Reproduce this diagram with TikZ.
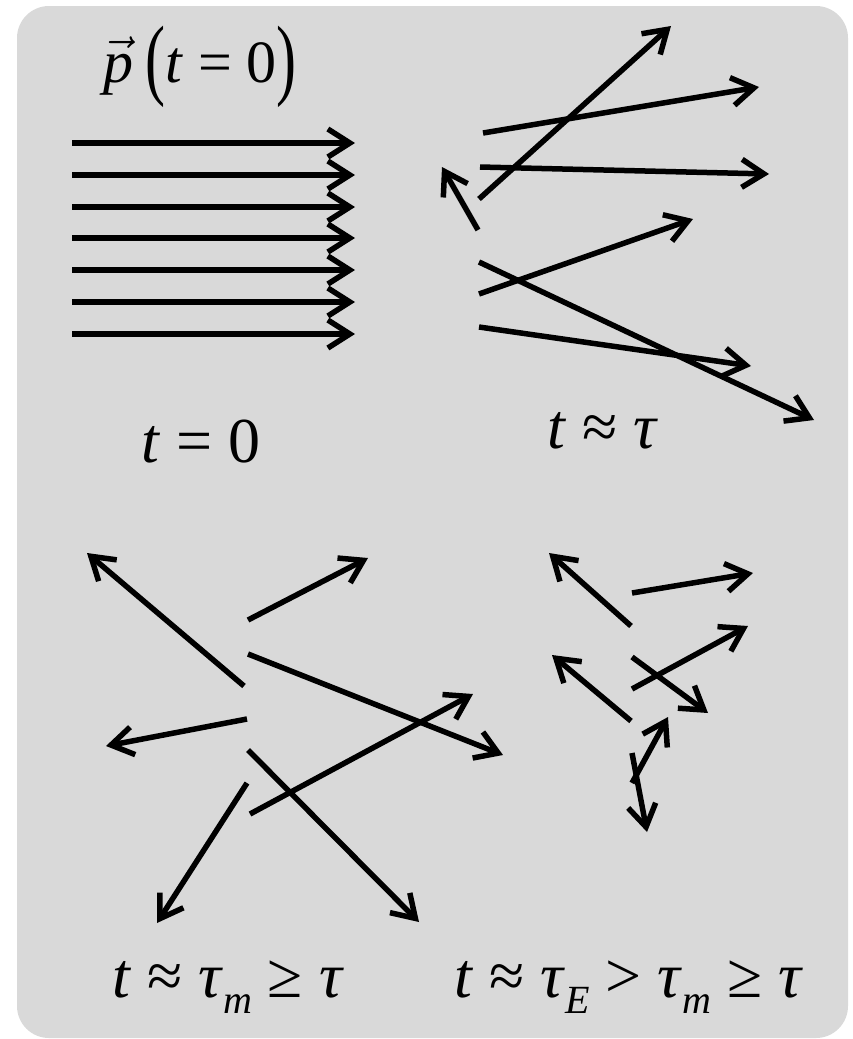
\RequirePackage{fix-cm}
\documentclass[tikz,border=0pt]{standalone}
\usepackage{fontspec}
\setmainfont{Liberation Serif}
\usepackage{graphicx}
\usepackage{xcolor}
\usepackage{tikz}
\usetikzlibrary{arrows.meta}
\definecolor{panelgray}{HTML}{D9D9D9}

\begin{document}
\begin{tikzpicture}[x=1pt,y=-1pt,
  mom/.style={line width=5.5pt,-{Straight Barb[length=22pt,width=28pt]}},
  lbl/.style={inner sep=0pt,anchor=base,font=\fontsize{64}{70}\selectfont},
  toplbl/.style={inner sep=0pt,anchor=base,font=\fontsize{60}{68}\selectfont}
]
\useasboundingbox (0,0) rectangle (852,1039);
\fill[panelgray,rounded corners=32pt] (17,6) rectangle (848,1038);
% t = 0 : all momenta aligned
\node[toplbl] (p0) at (200,82) {$\vec{\textit{p}}$\hspace{12pt}\raisebox{-6pt}{\scalebox{1}[1.5]{(}}\textit{t} = 0\raisebox{-6pt}{\scalebox{1}[1.5]{)}}};
\draw[mom] (72,143)--(355,143); \draw[mom] (72,175)--(355,175);
\draw[mom] (72,207)--(355,207); \draw[mom] (72,238)--(355,238);
\draw[mom] (72,270)--(355,270); \draw[mom] (72,302)--(355,302);
\draw[mom] (72,334)--(355,334);
\node[lbl] (l0) at (201,462) {\textit{t} = 0};
% t ~ tau
\draw[mom] (479,199)--(671,26); \draw[mom] (483,133)--(759,87);
\draw[mom] (480,167)--(769,174); \draw[mom] (478,230)--(442,167);
\draw[mom] (479,294)--(693,219); \draw[mom] (479,262)--(814,420);
\draw[mom] (479,327)--(751,366);
\node[lbl] (l1) at (603,448) {\textit{t} ≈ \textit{τ}};
% t ~ tau_m
\draw[mom] (244,686)--(87,553); \draw[mom] (248,620)--(368,558);
\draw[mom] (248,654)--(503,755); \draw[mom] (247,719)--(106,746);
\draw[mom] (248,750)--(419,922); \draw[mom] (247,783)--(157,923);
\draw[mom] (250,814)--(473,694);
\node[lbl] (l2) at (228,997) {\textit{t} ≈ \textit{τ}\raisebox{-16pt}{\fontsize{40}{40}\selectfont\textit{m}} ≥ \textit{τ}};
% t ~ tau_E
\draw[mom] (631,626)--(549,553); \draw[mom] (632,593)--(753,573);
\draw[mom] (632,657)--(708,713); \draw[mom] (632,689)--(748,626);
\draw[mom] (631,721)--(552,655); \draw[mom] (632,783)--(668,717);
\draw[mom] (632,753)--(647,832);
\node[lbl] (l3) at (629,997) {\textit{t} ≈ \textit{τ}\raisebox{-16pt}{\fontsize{40}{40}\selectfont\textit{E}} > \textit{τ}\raisebox{-16pt}{\fontsize{40}{40}\selectfont\textit{m}} ≥ \textit{τ}};
\end{tikzpicture}
\end{document}
